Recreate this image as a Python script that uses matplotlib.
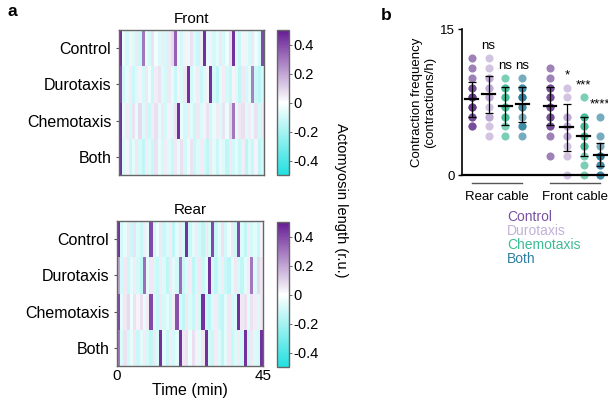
import matplotlib
matplotlib.use("Agg")
import matplotlib.pyplot as plt
from matplotlib.colors import LinearSegmentedColormap
import numpy as np

plt.rcParams['font.family'] = ['Liberation Sans', 'DejaVu Sans']

# ---- panel a: actomyosin length kymographs (one value per minute) ----
conditions = ["Control", "Durotaxis", "Chemotaxis", "Both"]
time_max = 45

front_control = [0.45, -0.05, -0.10, 0.03, -0.08,
                 0.05, -0.12, 0.30, -0.05, -0.10,
                 0.06, -0.03, -0.08, 0.04, -0.10,
                 0.05, 0.08, 0.35, -0.06, -0.10,
                 0.03, -0.05, 0.06, -0.08, -0.12,
                 0.04, 0.45, -0.05, 0.03, -0.10,
                 -0.06, 0.05, -0.10, -0.04, 0.07,
                 0.45, -0.08, -0.12, 0.03, -0.06,
                 -0.10, 0.05, -0.04, -0.10, 0.40]
front_durotaxis = [0.40, -0.10, -0.06, 0.04, -0.12,
                   -0.08, 0.03, -0.10, 0.05, -0.04,
                   -0.12, 0.04, 0.06, -0.08, -0.10,
                   0.05, -0.06, -0.12, 0.03, -0.08,
                   0.05, 0.45, -0.10, -0.06, 0.04,
                   -0.12, -0.08, 0.03, 0.45, -0.10,
                   -0.14, -0.06, 0.04, -0.10, -0.12,
                   0.03, -0.08, -0.14, 0.05, -0.10,
                   -0.06, 0.28, -0.12, -0.15, -0.10]
front_chemotaxis = [0.45, -0.06, 0.04, -0.10, 0.06,
                    -0.05, 0.08, -0.08, 0.05, -0.12,
                    0.04, 0.07, -0.06, 0.05, -0.10,
                    0.03, -0.08, 0.06, 0.45, -0.05,
                    -0.10, 0.04, -0.06, -0.12, 0.05,
                    -0.08, 0.03, 0.06, -0.10, -0.05,
                    0.04, -0.08, 0.06, -0.04, 0.08,
                    0.30, -0.06, 0.05, 0.07, -0.08,
                    0.04, -0.06, 0.06, -0.10, 0.05]
front_both = [0.45, -0.08, 0.03, -0.12, -0.06,
              0.05, -0.10, -0.14, 0.04, -0.08,
              -0.12, 0.06, -0.05, -0.10, 0.04,
              -0.08, -0.12, 0.05, -0.06, 0.07,
              -0.10, -0.04, 0.06, -0.12, -0.08,
              0.04, -0.10, -0.14, 0.05, -0.06,
              -0.12, 0.03, -0.08, -0.14, 0.05,
              -0.10, -0.06, -0.12, 0.04, -0.15,
              -0.08, -0.12, 0.03, -0.14, -0.10]

rear_control = [0.45, -0.10, -0.05, 0.05, -0.12,
                0.06, -0.08, -0.12, 0.04, -0.06,
                0.40, -0.10, -0.04, 0.05, -0.12,
                -0.08, 0.04, -0.14, -0.06, 0.05,
                -0.10, 0.45, -0.12, -0.06, 0.04,
                -0.10, -0.14, 0.05, -0.08, 0.40,
                -0.12, -0.06, 0.06, -0.10, -0.04,
                0.05, -0.12, 0.40, -0.08, -0.14,
                0.04, -0.10, -0.06, -0.12, 0.03]
rear_durotaxis = [0.20, -0.10, 0.05, -0.12, -0.06,
                  0.04, -0.10, -0.14, 0.32, -0.06,
                  0.05, -0.10, -0.12, 0.04, -0.08,
                  -0.14, 0.05, -0.06, -0.10, 0.32,
                  -0.12, -0.08, 0.04, -0.14, -0.10,
                  0.05, -0.12, -0.06, 0.45, -0.10,
                  -0.14, -0.08, 0.04, -0.12, -0.15,
                  -0.06, 0.05, -0.10, -0.14, -0.06,
                  0.04, 0.30, -0.08, 0.08, 0.05]
rear_chemotaxis = [0.40, -0.06, 0.05, 0.08, -0.04,
                   0.06, 0.03, 0.07, -0.05, 0.04,
                   0.40, -0.08, -0.12, 0.05, -0.10,
                   -0.06, -0.12, 0.04, 0.38, -0.10,
                   -0.14, 0.05, -0.08, -0.12, 0.04,
                   -0.10, 0.45, -0.12, -0.15, -0.08,
                   0.04, -0.12, -0.14, -0.06, 0.05,
                   -0.10, -0.08, 0.45, 0.05, 0.07,
                   -0.06, 0.06, 0.04, -0.08, 0.05]
rear_both = [0.30, -0.08, 0.06, -0.10, -0.05,
             0.05, -0.12, -0.06, 0.04, -0.10,
             -0.14, 0.05, -0.08, 0.45, -0.06,
             -0.12, 0.04, -0.10, -0.06, 0.45,
             0.05, 0.06, -0.04, 0.07, 0.03,
             -0.06, 0.05, 0.45, -0.10, -0.12,
             0.04, -0.08, -0.14, -0.06, 0.05,
             -0.12, -0.08, 0.04, -0.10, 0.45,
             -0.12, 0.05, -0.08, -0.10, 0.45]

front_rows = [front_control, front_durotaxis, front_chemotaxis, front_both]
rear_rows = [rear_control, rear_durotaxis, rear_chemotaxis, rear_both]
cbar_ticks = [-0.4, -0.2, 0, 0.2, 0.4]
cbar_labels = ["-0.4", "-0.2", "0", "0.2", "0.4"]

# ---- panel b: contraction frequency ----
cables = ["Rear cable", "Front cable"]
rear_freq = [[12, 11, 10, 9, 9, 8, 8, 8, 7, 7, 7, 6, 6, 5, 5],
             [12, 11, 10, 10, 9, 9, 8, 8, 7, 6, 6, 5, 4],
             [10, 9, 9, 8, 8, 7, 7, 6, 6, 5, 4],
             [10, 9, 9, 8, 8, 8, 7, 7, 6, 5, 5, 4]]
front_freq = [[11, 10, 9, 9, 8, 8, 7, 7, 6, 6, 5, 5, 4, 2],
              [9, 8, 6, 6, 5, 5, 4, 4, 3, 2, 0],
              [8, 6, 6, 5, 5, 4, 4, 3, 3, 2, 1, 0],
              [6, 4, 3, 2, 2, 2, 1, 1, 0, 0]]
rear_mean = [7.8, 8.3, 7.1, 7.3]
rear_sd = [1.8, 1.9, 2.0, 1.8]
front_mean = [7.1, 4.9, 4.0, 2.1]
front_sd = [2.0, 2.4, 2.0, 1.2]
rear_sig = ["", "ns", "ns", "ns"]
front_sig = ["", "*", "***", "****"]

dot_colors = ["#5e2d86", "#b49ccc", "#25b087", "#1c7696"]
legend_colors = ["#7752a0", "#c2b2d9", "#3dbb93", "#2f7fa0"]

cmap = LinearSegmentedColormap.from_list("acto", ["#22e0e0", "#ffffff", "#651c93"])

fig = plt.figure(figsize=(6.08, 4.03), dpi=100)
W, H = 608.0, 403.0


def px_axes(x0, y0, x1, y1):
    return fig.add_axes([x0 / W, 1 - y1 / H, (x1 - x0) / W, (y1 - y0) / H])


def kymo(ax, rows, title, show_time):
    data = np.array(rows)
    mesh = ax.pcolormesh(np.arange(time_max + 1), np.arange(len(rows) + 1), data,
                         cmap=cmap, vmin=-0.5, vmax=0.5)
    ax.set_ylim(len(rows), 0)
    ax.set_xlim(0, time_max)
    ax.set_yticks(np.arange(len(rows)) + 0.5)
    ax.set_yticklabels(conditions, fontsize=11.5)
    ax.tick_params(axis="y", length=2.5, pad=3, color="#555555")
    if show_time:
        ax.set_xticks([0, time_max])
        ax.set_xticklabels(["0", str(time_max)], fontsize=11)
        ax.tick_params(axis="x", length=0, pad=2)
        ax.set_xlabel("Time (min)", fontsize=11.5, labelpad=0)
    else:
        ax.set_xticks([])
    for s in ax.spines.values():
        s.set_color("#666666")
        s.set_linewidth(1)
    ax.set_title(title, fontsize=11, pad=5)
    return mesh


ax_front = px_axes(119, 30, 264, 175)
m1 = kymo(ax_front, front_rows, "Front", False)
ax_rear = px_axes(117, 221, 263, 366)
m2 = kymo(ax_rear, rear_rows, "Rear", True)

for mesh, (y0, y1) in [(m1, (30, 175)), (m2, (222, 367))]:
    cax = px_axes(277, y0, 289, y1)
    cb = fig.colorbar(mesh, cax=cax, ticks=cbar_ticks)
    cb.ax.set_yticklabels(cbar_labels, fontsize=10.5)
    cb.ax.tick_params(length=2, width=0.6, pad=1, color="#555555")
    cb.outline.set_edgecolor("#666666")
    cb.outline.set_linewidth(1)

fig.text(341 / W, 1 - 200 / H, "Actomyosin length (r.u.)", rotation=-90,
         ha="center", va="center", fontsize=10.5)

# ---- panel b ----
ax_b = px_axes(461.7, 29.3, 608, 175)
gap = 1.66
for c, (freqs, means, sds, sigs) in enumerate([(rear_freq, rear_mean, rear_sd, rear_sig),
                                               (front_freq, front_mean, front_sd, front_sig)]):
    for i in range(len(conditions)):
        xpos = c * (len(conditions) - 1 + gap) + i
        vals = freqs[i]
        ax_b.scatter([xpos] * len(vals), vals, s=34, color=dot_colors[i], alpha=0.6,
                     linewidths=0, clip_on=False, zorder=2)
        ax_b.errorbar(xpos, means[i], yerr=sds[i], fmt="none", ecolor="black",
                      elinewidth=0.9, capsize=3, capthick=0.9, zorder=3)
        ax_b.plot([xpos - 0.38, xpos + 0.38], [means[i]] * 2, color="black", lw=1.6, zorder=4)
        if sigs[i]:
            ax_b.text(xpos, max(vals) + 1.25, sigs[i], ha="center", va="center", fontsize=9.5)
    x0 = c * (len(conditions) - 1 + gap)
    ax_b.plot([x0, x0 + len(conditions) - 1], [-0.85, -0.85], color="#555555", lw=1,
              clip_on=False)
    ax_b.text(x0 + (len(conditions) - 1) / 2, -2.3, cables[c], ha="center", va="center",
              fontsize=9.5)

ax_b.set_xlim(-0.6, 8.11)
ax_b.set_ylim(0, 15)
ax_b.set_yticks([0, 15])
ax_b.set_yticklabels(["0", "15"], fontsize=9.5)
ax_b.set_xticks([])
ax_b.tick_params(axis="y", length=3, width=1, pad=2)
ax_b.spines["top"].set_visible(False)
ax_b.spines["right"].set_visible(False)
ax_b.spines["left"].set_linewidth(1.2)
ax_b.spines["bottom"].set_linewidth(1.6)
ax_b.set_ylabel("Contraction frequency\n(contractions/h)", fontsize=9.5, labelpad=3,
                linespacing=1.1)

for i, name in enumerate(conditions):
    fig.text(507 / W, 1 - (217 + 14 * i) / H, name, color=legend_colors[i],
             fontsize=10, ha="left", va="center")

fig.text(8 / W, 1 - 12 / H, "a", fontsize=12.5, fontweight="bold", va="center")
fig.text(381 / W, 1 - 15 / H, "b", fontsize=12.5, fontweight="bold", va="center")

fig.savefig("out.png", dpi=100)
